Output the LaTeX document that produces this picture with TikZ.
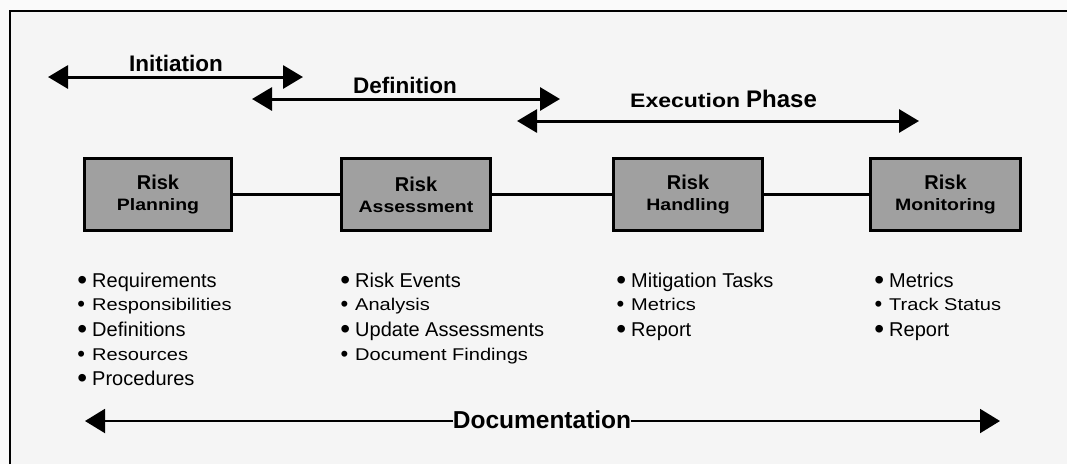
\documentclass[tikz,border=0pt]{standalone}
\usepackage{fontspec}
\setmainfont{Liberation Sans}
\newfontfamily\widesans{Liberation Sans}[FakeStretch=1.18]
\usetikzlibrary{arrows.meta}

\definecolor{outerbg}{RGB}{250,250,250}
\definecolor{innerbg}{RGB}{245,245,245}
\definecolor{boxgray}{RGB}{160,160,160}

\newcommand{\fs}[2]{\fontsize{#1}{#2}\selectfont}

\tikzset{
  phasearrow/.style={line width=3pt, {Triangle[length=20pt,width=23pt]}-{Triangle[length=20pt,width=23pt]}},
  phaselabel/.style={anchor=base, inner sep=0pt, font=\bfseries\fs{22.5}{24}},
  riskbox/.style={draw, line width=3pt, fill=boxgray, minimum width=147pt, minimum height=72pt,
                  align=center, inner sep=0pt, outer sep=0pt, font=\widesans\bfseries\fs{16.5}{21}},
  link/.style={line width=3pt},
  bigitem/.style={anchor=base west, inner sep=0pt, font=\fs{20}{24}},
  smallitem/.style={anchor=base west, inner sep=0pt, font=\widesans\fs{17}{24}},
  docline/.style={line width=2pt},
}

% bullets set just left of each item's text
\newcommand{\bigbul}{\makebox[0pt][r]{\raisebox{-2.2pt}{\normalfont\fs{28}{24}\textbullet}\hspace{5pt}}}
\newcommand{\smallbul}{\makebox[0pt][r]{\raisebox{-1pt}{\normalfont\fs{22}{24}\textbullet}\hspace{7pt}}}
\newcommand{\riskline}{{\normalfont\bfseries\fs{20}{21}Risk}}

\begin{document}
\begin{tikzpicture}[x=1pt,y=-1pt]
  \useasboundingbox (0,0) rectangle (1067,464);
  % page and framed panel
  \fill[outerbg] (0,0) rectangle (1067,464);
  \fill[innerbg] (10,11) rectangle (1067,464);
  \draw[line width=2.5pt] (10,464) -- (10,11) -- (1067,11);

  % phase spans
  \coordinate (iniL) at (48,77);
  \coordinate (iniR) at (303,77);
  \coordinate (defL) at (252,99);
  \coordinate (defR) at (560,99);
  \coordinate (exeL) at (517,121);
  \coordinate (exeR) at (919,121);
  \draw[phasearrow] (iniL) -- (iniR);
  \draw[phasearrow] (defL) -- (defR);
  \draw[phasearrow] (exeL) -- (exeR);
  \node[phaselabel] (ini) at (176,71) {Initiation};
  \node[phaselabel] (def) at (405,93) {Definition};
  \node[anchor=base west, inner sep=0pt] (exe) at (630,107)
    {{\widesans\bfseries\fs{19.5}{20}Execution}\hspace{6pt}{\bfseries\fs{24}{24}Phase}};

  % process boxes
  \node[riskbox] (plan)    at (158,194.5)   {\riskline\\Planning};
  \node[riskbox, minimum width=149pt] (assess)  at (416,194.5)   {\riskline\\Assessment};
  \node[riskbox, minimum width=149pt] (handle)  at (688,194.5)   {\riskline\\Handling};
  \node[riskbox, minimum width=150pt] (monitor) at (945.5,194.5) {\riskline\\Monitoring};
  \draw[link] (plan) -- (assess);
  \draw[link] (assess) -- (handle);
  \draw[link] (handle) -- (monitor);

  % activities under each box
  \node[bigitem]   (p1) at (92,287) {\bigbul Requirements};
  \node[smallitem] (p2) at (92,310) {\smallbul Responsibilities};
  \node[bigitem]   (p3) at (92,336) {\bigbul Definitions};
  \node[smallitem] (p4) at (92,360) {\smallbul Resources};
  \node[bigitem]   (p5) at (92,385) {\bigbul Procedures};

  \node[bigitem]   (a1) at (355,287) {\bigbul Risk Events};
  \node[smallitem] (a2) at (355,310) {\smallbul Analysis};
  \node[bigitem]   (a3) at (355,336) {\bigbul Update Assessments};
  \node[smallitem] (a4) at (355,360) {\smallbul Document Findings};

  \node[bigitem]   (h1) at (631,287) {\bigbul Mitigation Tasks};
  \node[smallitem] (h2) at (631,310) {\smallbul Metrics};
  \node[bigitem]   (h3) at (631,336) {\bigbul Report};

  \node[bigitem]   (m1) at (889,287) {\bigbul Metrics};
  \node[smallitem] (m2) at (889,310) {\smallbul Track Status};
  \node[bigitem]   (m3) at (889,336) {\bigbul Report};

  % documentation span
  \coordinate (docL) at (85,421);
  \coordinate (docR) at (1000,421);
  \node[anchor=base, inner sep=0pt, font=\bfseries\fs{24.5}{26}] (doc) at (542,428) {Documentation};
  \draw[docline, {Triangle[length=20pt,width=24pt]}-] (docL) -- (docL -| doc.west);
  \draw[docline, -{Triangle[length=20pt,width=24pt]}] (docR -| doc.east) -- (docR);
\end{tikzpicture}
\end{document}
